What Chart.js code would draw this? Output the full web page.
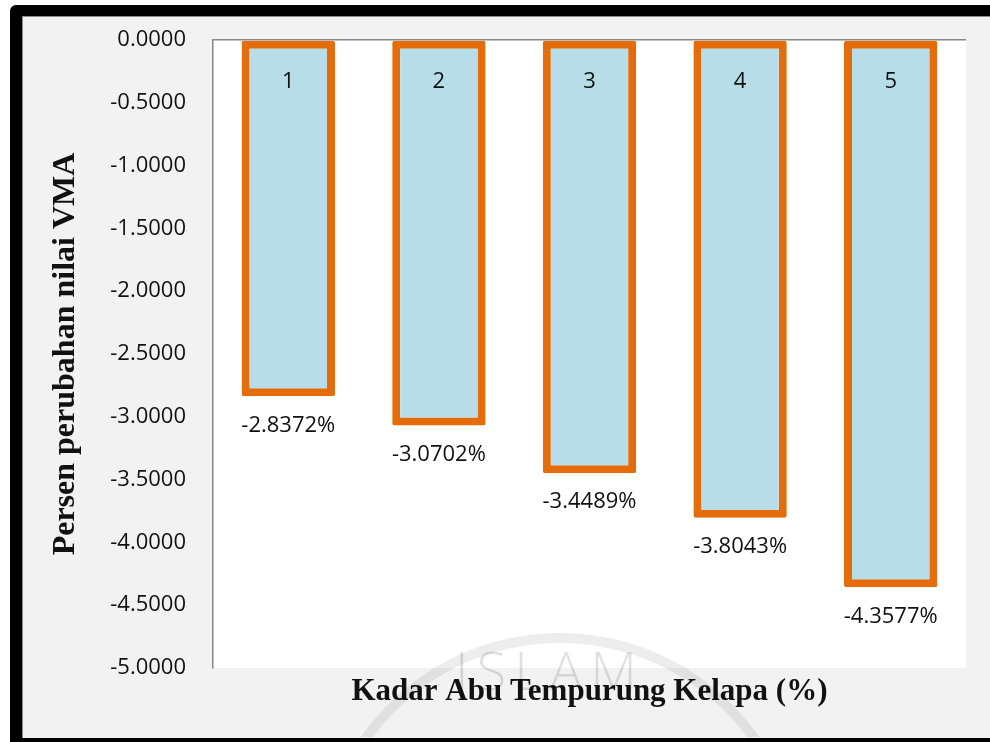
<!DOCTYPE html>
<html>
<head>
<meta charset="utf-8">
<script src="https://cdn.jsdelivr.net/npm/chart.js@4"></script>
<style>
  html, body { margin: 0; padding: 0; background: #fff; overflow: hidden; width: 990px; height: 742px; }
  .frame {
    position: absolute; left: 10px; top: 5px; width: 980px; height: 737px;
    background: #000; border-top-left-radius: 6px;
  }
  .inner {
    position: absolute; left: 12px; top: 11px; width: 967px; height: 721px;
    background: #f2f2f2; border-left: 1px solid #8c8c8c; border-top: 1px solid #8c8c8c;
  }
  canvas { display: block; position: absolute; left: -1px; top: -1px; }
</style>
</head>
<body>
<div class="frame"><div class="inner"><canvas id="vmaChart" width="968" height="721"></canvas></div></div>
<script>
// Kadar abu tempurung kelapa vs persen perubahan VMA
const categories = ['1', '2', '3', '4', '5'];
const vmaChange = [-2.8372, -3.0702, -3.4489, -3.8043, -4.3577];
const yTicks = { min: -5, max: 0, step: 0.5 };

const labelFont = '22px "Open Sans"';
const titleFont = { family: '"Liberation Serif", "Times New Roman", serif', weight: 'bold' };

// white plot background
const plotBackground = {
  id: 'plotBackground',
  beforeDraw(chart) {
    const { ctx, chartArea: a } = chart;
    ctx.save();
    ctx.fillStyle = '#ffffff';
    ctx.fillRect(a.left, a.top, a.right - a.left, a.bottom - a.top);
    ctx.restore();
  }
};

// category numbers inside bar tops, values under bar ends
const barLabels = {
  id: 'barLabels',
  afterDatasetsDraw(chart) {
    const { ctx, scales } = chart;
    const meta = chart.getDatasetMeta(0);
    ctx.save();
    ctx.font = labelFont;
    ctx.fillStyle = '#111';
    ctx.textAlign = 'center';
    ctx.textBaseline = 'middle';
    meta.data.forEach((bar, i) => {
      const x = scales.x.getPixelForValue(i);
      ctx.fillText(categories[i], x, scales.y.getPixelForValue(0) + 42);
      ctx.fillText(vmaChange[i].toFixed(4) + '%', x, bar.y + 29);
    });
    ctx.restore();
  }
};

// faint university watermark near the x title
const watermark = {
  id: 'watermark',
  afterDraw(chart) {
    const ctx = chart.ctx;
    ctx.save();
    ctx.globalAlpha = 0.07;
    ctx.strokeStyle = '#000';
    ctx.lineWidth = 10;
    ctx.beginPath();
    ctx.arc(538, 860, 238, Math.PI * 1.18, Math.PI * 1.82);
    ctx.stroke();
    ctx.globalAlpha = 0.12;
    ctx.fillStyle = '#000';
    ctx.font = '300 54px "Open Sans"';
    ctx.textAlign = 'center';
    ctx.textBaseline = 'alphabetic';
    if ('letterSpacing' in ctx) ctx.letterSpacing = '8px';
    ctx.fillText('ISLAM', 528, 674);
    ctx.restore();
  }
};

new Chart(document.getElementById('vmaChart'), {
  type: 'bar',
  data: {
    labels: categories,
    datasets: [{
      data: vmaChange,
      backgroundColor: '#b7dde8',
      borderColor: '#e46c0a',
      borderWidth: 8,
      borderSkipped: false,
      borderRadius: 2,
      barPercentage: 0.62,
      categoryPercentage: 1
    }]
  },
  options: {
    responsive: false,
    devicePixelRatio: 1,
    animation: false,
    layout: { padding: { top: 24, right: 24, left: 0, bottom: 0 } },
    plugins: { legend: { display: false }, tooltip: { enabled: false } },
    scales: {
      x: {
        grid: { display: false },
        border: { display: false },
        ticks: { display: false },
        title: {
          display: true,
          text: 'Kadar Abu Tempurung Kelapa (%)',
          color: '#111',
          font: { ...titleFont, size: 31 },
          padding: { top: 0, bottom: 26 }
        },
        afterFit(scale) { scale.height = 69; }
      },
      y: {
        min: yTicks.min,
        max: yTicks.max,
        ticks: {
          stepSize: yTicks.step,
          padding: 27,
          color: '#111',
          font: { family: '"Open Sans"', size: 22 },
          callback: (v) => Number(v).toFixed(4)
        },
        grid: {
          drawTicks: false,
          lineWidth: 1.5,
          color: (c) => (c.tick && c.tick.value === 0 ? '#868686' : 'rgba(0,0,0,0)')
        },
        border: { display: true, color: '#868686', width: 1.5 },
        title: {
          display: true,
          text: 'Persen perubahan nilai VMA',
          color: '#111',
          font: { ...titleFont, size: 32 },
          padding: { top: 25, bottom: 0 }
        },
        afterFit(scale) {
          // tick padding would otherwise push the plot top down
          scale.width = 191;
          scale.paddingTop = 0;
          scale.paddingBottom = 0;
        }
      }
    }
  },
  plugins: [plotBackground, barLabels, watermark]
});
</script>
</body>
</html>
